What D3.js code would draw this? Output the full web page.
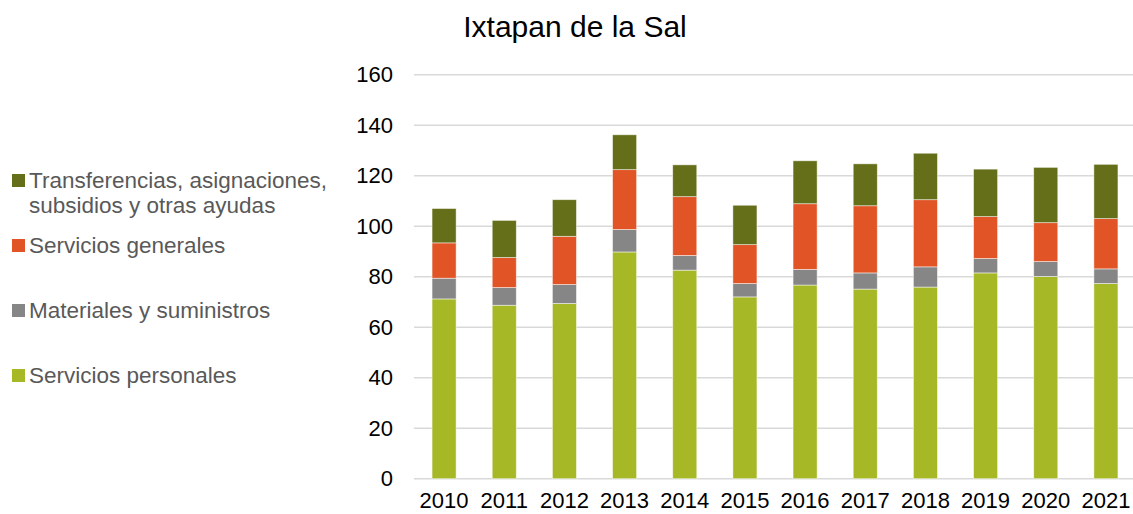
<!DOCTYPE html>
<html>
<head>
<meta charset="utf-8">
<script src="https://cdn.jsdelivr.net/npm/d3@7"></script>
<style>
    body { margin: 0; background: #fff; }
    svg { display: block; font-family: "Liberation Sans", Arial, sans-serif; }
</style>
</head>
<body>
<div class="plot"></div>
<script>
const years = ["2010", "2011", "2012", "2013", "2014", "2015", "2016", "2017", "2018", "2019", "2020", "2021"];
const seriesNames = [
    "Servicios personales",
    "Materiales y suministros",
    "Servicios generales",
    "Transferencias, asignaciones, subsidios y otras ayudas"
];
const personales = [71.2, 68.7, 69.4, 89.8, 82.6, 72.0, 76.7, 75.1, 75.9, 81.5, 80.1, 77.3];
const materiales = [8.2, 7.0, 7.5, 8.9, 5.8, 5.3, 6.2, 6.4, 8.0, 5.7, 5.9, 5.8];
const generales = [14.0, 11.9, 19.1, 23.7, 23.3, 15.4, 26.0, 26.6, 26.6, 16.6, 15.4, 19.9];
const transferencias = [13.6, 14.7, 14.5, 13.8, 12.6, 15.6, 17.0, 16.6, 18.4, 18.8, 21.9, 21.5];
const yTicks = [0, 20, 40, 60, 80, 100, 120, 140, 160];

const colors = ["#a7b827", "#868686", "#e15426", "#656e18"];

const svgContainer = d3
    .select(".plot")
    .append("svg")
    .attr("width", 1133)
    .attr("height", 514);

const rows = years.map((year, i) => ({
    year: year,
    s0: personales[i],
    s1: materiales[i],
    s2: generales[i],
    s3: transferencias[i],
}));

const stack = d3.stack().keys(["s0", "s1", "s2", "s3"]);
const stacked = stack(rows);

const xScale = d3.scaleBand().domain(years).range([414, 1136]).paddingInner(0.6).paddingOuter(0.3);
const yScale = d3.scaleLinear().domain([0, 160]).range([478.7, 74.7]);

// gridlines
svgContainer
    .append("g")
    .selectAll("line")
    .data(yTicks)
    .join("line")
    .attr("x1", 414)
    .attr("x2", 1136)
    .attr("y1", (d) => yScale(d))
    .attr("y2", (d) => yScale(d))
    .attr("stroke", "#d9d9d9")
    .attr("stroke-width", 1.5);

// y axis labels
const yAxis = svgContainer
    .append("g")
    .attr("transform", "translate(393, 0)")
    .call(d3.axisLeft(yScale).tickValues(yTicks).tickSize(0).tickPadding(0));
yAxis.select(".domain").remove();
yAxis.selectAll("text")
    .style("font-size", "22px")
    .style("font-family", "Liberation Sans, Arial, sans-serif")
    .attr("fill", "#000");

// x axis labels
const xAxis = svgContainer
    .append("g")
    .attr("transform", "translate(0, 478.7)")
    .call(d3.axisBottom(xScale).tickSize(0).tickPadding(14));
xAxis.select(".domain").remove();
xAxis.selectAll("text")
    .style("font-size", "22px")
    .style("font-family", "Liberation Sans, Arial, sans-serif")
    .attr("fill", "#000");

// bars
svgContainer
    .append("g")
    .selectAll("g")
    .data(stacked)
    .join("g")
    .attr("fill", (d, i) => colors[i])
    .selectAll("rect")
    .data((d) => d)
    .join("rect")
    .attr("x", (d) => xScale(d.data.year))
    .attr("width", xScale.bandwidth())
    .attr("y", (d) => yScale(d[1]))
    .attr("height", (d) => yScale(d[0]) - yScale(d[1]))
    .attr("stroke", "rgba(255,255,255,0.6)")
    .attr("stroke-width", 0.8);

// title
svgContainer
    .append("text")
    .attr("x", 575)
    .attr("y", 37)
    .attr("text-anchor", "middle")
    .text("Ixtapan de la Sal")
    .style("font-size", "30px")
    .attr("fill", "#000");

// legend
const legendItems = [
    { idx: 3, lines: ["Transferencias, asignaciones,", "subsidios y otras ayudas"], y: 188 },
    { idx: 2, lines: ["Servicios generales"], y: 253 },
    { idx: 1, lines: ["Materiales y suministros"], y: 318 },
    { idx: 0, lines: ["Servicios personales"], y: 383 },
];

const legend = svgContainer
    .append("g")
    .selectAll("g")
    .data(legendItems)
    .join("g");

legend
    .append("rect")
    .attr("x", 12)
    .attr("y", (d) => d.y - 14)
    .attr("width", 13)
    .attr("height", 13)
    .attr("fill", (d) => colors[d.idx]);

legend
    .append("text")
    .attr("x", 29)
    .attr("y", (d) => d.y)
    .style("font-size", "22.5px")
    .attr("fill", "#595959")
    .selectAll("tspan")
    .data((d) => d.lines)
    .join("tspan")
    .attr("x", 29)
    .attr("dy", (d, i) => (i === 0 ? 0 : 25))
    .text((d) => d);
</script>
</body>
</html>
